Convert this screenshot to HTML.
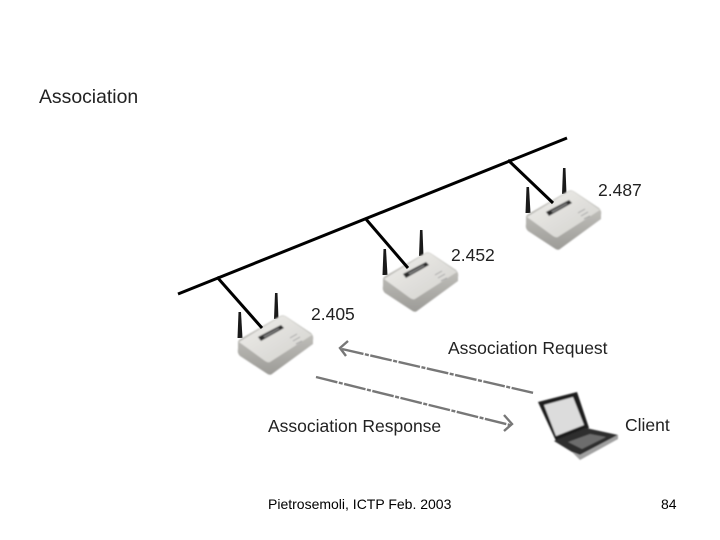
<!DOCTYPE html>
<html>
<head>
<meta charset="utf-8">
<style>
html,body{margin:0;padding:0;background:#fff;width:720px;height:540px;overflow:hidden}
svg{display:block}
text{font-family:"Liberation Sans",sans-serif}
</style>
</head>
<body>
<svg width="720" height="540" viewBox="0 0 720 540" xmlns="http://www.w3.org/2000/svg">
<defs>
<linearGradient id="top" x1="0" y1="0" x2="1" y2="1">
<stop offset="0" stop-color="#efeeeb"/><stop offset="1" stop-color="#d2d1cd"/>
</linearGradient>
<linearGradient id="front" x1="0" y1="0" x2="0" y2="1">
<stop offset="0" stop-color="#cfcec9"/><stop offset="1" stop-color="#9c9b97"/>
</linearGradient>
<filter id="soft" x="-10%" y="-10%" width="120%" height="120%"><feGaussianBlur stdDeviation="0.8"/></filter>
<filter id="tx" x="-5%" y="-20%" width="110%" height="140%"><feGaussianBlur stdDeviation="0.25"/></filter>
<g id="router">
<polygon points="238.5,312 241,312 242.5,338 237.5,338" fill="#1a1a1a"/>
<polygon points="275,293 277.5,293 278.5,319 274,319" fill="#1a1a1a"/>
<g filter="url(#soft)">
<path d="M238 342 Q238 340 242 338 L280 316 Q283 314 287 317 L311 333 Q314 336 313 340 L313 344 L272 374 Q270 376 266 373 L240 356 Q237 353 238 349 Z" fill="url(#front)"/>
<path d="M239 342 L280 317 Q283 315 286 317 L312 335 L270 362 Q268 363 265 361 Z" fill="url(#top)"/>
<polygon points="258,337 281,325 284,328 261,341" fill="#2b2b2b"/>
<polygon points="263,336 278,328 280,329 265,338" fill="#777"/>
<path d="M290 338 l7 -4 M293 341 l7 -4 M296 344 l6 -3" stroke="#a5a5a5" stroke-width="1"/>
</g>
</g>
</defs>

<use href="#router"/>
<use href="#router" x="145" y="-63"/>
<use href="#router" x="288" y="-125"/>

<g filter="url(#tx)">
<path d="M178 294 L567 138" stroke="#000" stroke-width="3" fill="none"/>
<path d="M217 277 L262 328" stroke="#000" stroke-width="3" fill="none"/>
<path d="M365 218 L408 268" stroke="#000" stroke-width="3" fill="none"/>
<path d="M508 160 L553 203" stroke="#000" stroke-width="3" fill="none"/>
</g>

<g stroke="#777" stroke-width="2.4" fill="none" filter="url(#tx)">
<path d="M342 349 L534 393" stroke-dasharray="22 1.5 4 1.5"/>
<path d="M316 377 L510 425" stroke-dasharray="22 1.5 4 1.5"/>
<path d="M348 341 L340 348 L346 356"/>
<path d="M504 415 L512 424 L504 431"/>
</g>

<g filter="url(#soft)">
<polygon points="538,402 577,392 589,428 556,441" fill="#1c1c1c"/>
<polygon points="544,405 573,397 584,425 556,436" fill="#dcdcdc"/>
<polygon points="554,441 586,428 618,435 580,455 572,452" fill="#2f2f2f"/>
<polygon points="568,442 590,434 606,437 582,449" fill="#6d6d6d"/>
<polygon points="572,452 580,455 618,435 618,439 580,460" fill="#a0a0a0"/>
</g>

<g fill="#222" filter="url(#tx)">
<text x="39" y="103" font-size="19.4">Association</text>
<text x="598" y="196" font-size="17.5">2.487</text>
<text x="451" y="261" font-size="17.5">2.452</text>
<text x="311" y="320" font-size="17.5">2.405</text>
<text x="448" y="354" font-size="17.5">Association Request</text>
<text x="268" y="432" font-size="17.5">Association Response</text>
<text x="625" y="431" font-size="17.5">Client</text>
</g>
<g fill="#000">
<text x="268" y="509" font-size="14">Pietrosemoli, ICTP Feb. 2003</text>
<text x="661" y="509" font-size="14">84</text>
</g>
</svg>
</body>
</html>
